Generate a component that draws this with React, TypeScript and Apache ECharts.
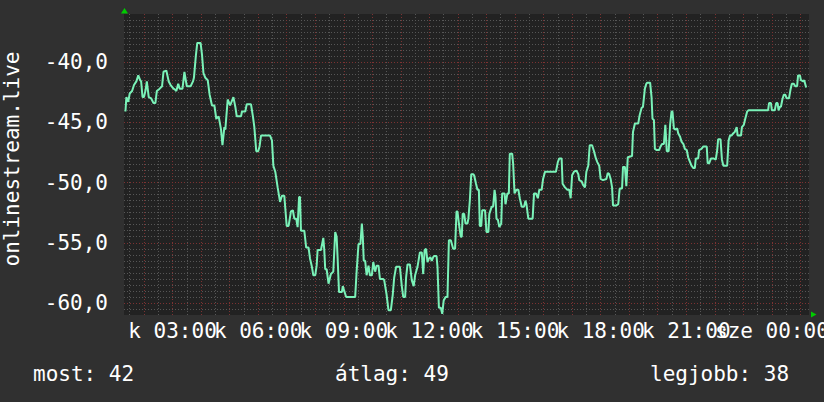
import React, { useEffect, useRef } from "react";
import * as echarts from "echarts";

// time of each sample, minutes since Tuesday 00:00 (k = kedd)
const sampleMinutes = [
  81, 83, 87, 90, 95, 99, 104, 108, 112, 114,
  117, 120, 123, 126, 130, 135, 140, 144, 147, 153,
  158, 161, 167, 172, 176, 182, 186, 188, 192, 195,
  201, 205, 210, 218, 223, 225, 229, 232, 239, 242,
  245, 249, 254, 258, 263, 268, 272, 277, 282, 285,
  289, 291, 296, 301, 308, 312, 315, 324, 326, 333,
  336, 345, 349, 352, 356, 360, 363, 366, 385, 389,
  392, 396, 401, 406, 410, 415, 420, 424, 429, 433,
  436, 440, 443, 446, 448, 450, 457, 461, 466, 469,
  473, 476, 480, 483, 485, 492, 497, 499, 501, 504,
  508, 511, 513, 518, 522, 525, 527, 530, 536, 538,
  541, 545, 564, 567, 571, 575, 578, 580, 582, 585,
  588, 592, 595, 599, 602, 606, 609, 613, 616, 622,
  625, 630, 634, 639, 643, 646, 650, 658, 662, 665,
  669, 671, 674, 679, 683, 687, 690, 695, 700, 704,
  707, 710, 713, 716, 719, 722, 725, 728, 730, 735,
  737, 740, 744, 747, 750, 754, 758, 761, 765, 770,
  774, 777, 779, 782, 786, 788, 790, 793, 796, 800,
  802, 805, 808, 812, 814, 818, 821, 824, 826, 829,
  831, 837, 840, 844, 846, 851, 854, 857, 859, 861,
  864, 867, 871, 873, 878, 880, 884, 887, 889, 894,
  896, 899, 903, 907, 910, 914, 919, 922, 924, 928,
  937, 940, 944, 948, 951, 956, 959, 963, 986, 990,
  993, 998, 1000, 1005, 1010, 1014, 1017, 1020, 1024, 1029,
  1033, 1035, 1040, 1043, 1047, 1050, 1054, 1057, 1062, 1066,
  1070, 1073, 1077, 1080, 1085, 1092, 1095, 1098, 1101, 1104,
  1106, 1113, 1117, 1120, 1125, 1127, 1131, 1134, 1137, 1146,
  1148, 1152, 1159, 1162, 1166, 1169, 1173, 1176, 1178, 1184,
  1187, 1189, 1192, 1194, 1198, 1203, 1206, 1209, 1213, 1216,
  1219, 1223, 1226, 1229, 1231, 1234, 1237, 1241, 1243, 1247,
  1250, 1254, 1257, 1261, 1264, 1268, 1271, 1275, 1278, 1280,
  1285, 1287, 1292, 1296, 1303, 1305, 1308, 1312, 1318, 1322,
  1325, 1327, 1332, 1335, 1338, 1346, 1349, 1352, 1355, 1359,
  1362, 1366, 1368, 1375, 1377, 1381, 1384, 1388, 1391, 1432,
  1434, 1438, 1440, 1446, 1449, 1452, 1454, 1457, 1459, 1462,
  1465, 1468, 1471, 1476, 1479, 1482, 1486, 1489, 1493, 1495,
  1499, 1501, 1506, 1508, 1512,
];

// onlinestream.live value at each sample
const sampleValues = [
  -44.1, -42.9, -43.3, -42.6, -42.4, -41.9, -41.6, -41.1, -41.5, -41.6,
  -42.9, -42.9, -42.4, -41.6, -42.9, -43.0, -43.4, -43.4, -42.4, -42.2,
  -42.0, -40.8, -40.7, -41.6, -41.9, -42.2, -42.3, -42.4, -41.8, -42.2,
  -42.2, -40.8, -42.0, -42.0, -41.6, -41.3, -39.5, -38.4, -38.4, -39.4,
  -40.9, -41.3, -41.5, -42.7, -43.6, -43.6, -44.7, -44.5, -45.6, -46.9,
  -45.4, -45.6, -43.1, -43.6, -42.9, -43.7, -44.5, -44.5, -44.1, -44.1,
  -43.5, -43.5, -44.5, -45.4, -47.4, -47.4, -47.0, -46.1, -46.1, -46.5,
  -48.6, -49.1, -50.4, -51.6, -51.1, -51.1, -53.6, -53.6, -52.4, -52.3,
  -53.0, -53.0, -53.7, -51.2, -51.2, -54.0, -54.0, -55.4, -55.4, -56.3,
  -57.0, -57.7, -57.7, -56.9, -55.6, -55.6, -54.6, -55.6, -57.2, -57.2,
  -58.4, -57.9, -57.6, -57.4, -54.1, -54.5, -56.2, -59.1, -59.1, -58.6,
  -59.0, -59.5, -59.5, -57.4, -55.1, -55.1, -53.4, -54.5, -56.5, -56.5,
  -57.7, -56.9, -57.7, -57.7, -56.6, -57.4, -56.9, -56.9, -58.0, -58.0,
  -58.1, -59.3, -60.6, -60.6, -59.3, -57.9, -57.0, -57.0, -58.6, -59.5,
  -59.5, -57.9, -56.8, -56.8, -58.1, -58.6, -57.7, -57.0, -55.8, -55.8,
  -57.6, -55.6, -55.5, -56.6, -56.3, -56.2, -56.5, -56.2, -56.1, -56.1,
  -57.0, -60.4, -60.4, -60.9, -59.8, -59.5, -59.5, -54.8, -54.8, -55.5,
  -55.5, -52.4, -52.4, -53.4, -54.5, -54.5, -52.6, -52.6, -53.4, -53.4,
  -53.0, -51.5, -49.3, -49.3, -49.4, -50.1, -50.6, -50.6, -53.6, -53.6,
  -52.3, -52.3, -54.1, -54.1, -52.6, -52.0, -52.0, -50.6, -51.2, -53.0,
  -53.1, -53.7, -53.4, -50.9, -50.9, -51.8, -50.9, -50.9, -47.6, -47.6,
  -48.4, -50.9, -50.6, -50.6, -51.3, -52.0, -52.0, -51.5, -51.8, -53.0,
  -53.0, -50.9, -50.9, -51.3, -50.6, -50.6, -49.7, -49.1, -49.1, -48.3,
  -48.0, -48.0, -50.1, -50.4, -50.6, -50.6, -51.3, -49.4, -49.1, -49.0,
  -49.3, -49.8, -49.9, -50.2, -50.4, -49.1, -48.6, -46.9, -46.9, -47.4,
  -48.0, -48.3, -48.6, -49.7, -49.8, -49.7, -49.2, -49.3, -49.7, -50.4,
  -51.9, -51.9, -51.8, -50.5, -50.5, -48.7, -48.7, -50.3, -47.9, -47.8,
  -45.8, -45.1, -45.1, -44.4, -43.8, -43.7, -42.2, -41.8, -41.7, -41.7,
  -42.9, -44.7, -44.8, -47.2, -47.3, -47.3, -47.0, -46.8, -46.8, -45.2,
  -47.4, -47.4, -45.2, -44.1, -44.1, -45.5, -45.6, -45.5, -45.9, -46.2,
  -46.6, -46.8, -47.2, -47.3, -47.9, -48.3, -48.6, -48.8, -48.8, -48.0,
  -48.0, -47.3, -47.2, -47.0, -47.0, -48.4, -48.4, -48.0, -48.0, -48.1,
  -47.3, -46.4, -46.4, -48.1, -48.6, -48.6, -46.5, -46.1, -46.1, -45.9,
  -45.8, -45.4, -46.1, -46.1, -45.4, -45.2, -44.7, -44.1, -44.0, -44.0,
  -43.4, -43.4, -44.0, -44.0, -43.4, -43.4, -44.0, -43.7, -43.7, -43.1,
  -42.7, -42.7, -43.0, -43.0, -42.3, -41.8, -41.8, -42.0, -42.0, -41.1,
  -41.1, -41.5, -41.6, -41.5, -42.1,
];

// x axis window (minutes since Tuesday 00:00) and labelled ticks (hours)
const xWindowMinutes = [78, 1518];
const xTickHours = [3, 6, 9, 12, 15, 18, 21, 24];
const xTickLabels = ["k 03:00", "k 06:00", "k 09:00", "k 12:00", "k 15:00", "k 18:00", "k 21:00", "sze 00:00"];

const yRange = [-61, -36];
const yTitle = "onlinestream.live";
const legendTexts = ["most: 42", "átlag: 49", "legjobb: 38"];

const FONT = '"DejaVu Sans Mono", monospace';

export default function App() {
  const ref = useRef<HTMLDivElement>(null);

  useEffect(() => {
    document.body.style.margin = "0";
    document.body.style.background = "#303030";
    const chart = echarts.init(ref.current as HTMLDivElement, null, { renderer: "svg" });
    const data = sampleMinutes.map((m, i) => [m / 60, sampleValues[i]]);

    const gridMinor = { color: "#565656", type: [1, 2], width: 1 };
    const gridMajor = { color: "#7c3232", type: [1, 2], width: 1 };

    chart.setOption({
      animation: false,
      backgroundColor: "#303030",
      grid: {
        left: 124,
        right: 15,
        top: 14,
        bottom: 87,
        show: true,
        backgroundColor: "#222222",
        borderWidth: 0,
        containLabel: false,
        outerBoundsMode: "none",
      },
      xAxis: {
        type: "value",
        min: xWindowMinutes[0] / 60,
        max: xWindowMinutes[1] / 60,
        splitNumber: 24,
        axisLine: { show: false },
        axisTick: { show: false },
        axisLabel: {
          color: "#ffffff",
          fontFamily: FONT,
          fontSize: 21,
          margin: 5,
          hideOverlap: false,
          showMinLabel: false,
          showMaxLabel: false,
          formatter: (v: number) => {
            const i = xTickHours.findIndex((h) => Math.abs(h - v) < 1e-6);
            return i >= 0 ? xTickLabels[i] : "";
          },
        },
        splitLine: { show: true, showMinLine: false, showMaxLine: false, lineStyle: gridMajor },
        minorTick: { show: false, splitNumber: 2 },
        minorSplitLine: { show: true, lineStyle: gridMinor },
      },
      yAxis: {
        type: "value",
        min: yRange[0],
        max: yRange[1],
        splitNumber: 5,
        axisLine: { show: false },
        axisTick: { show: false },
        axisLabel: {
          color: "#ffffff",
          fontFamily: FONT,
          fontSize: 21,
          margin: 16,
          showMinLabel: false,
          showMaxLabel: false,
          formatter: (v: number) =>
            Math.abs(v / 5 - Math.round(v / 5)) < 1e-6 ? v.toFixed(1).replace(".", ",") : "",
        },
        splitLine: { show: true, showMinLine: false, showMaxLine: false, lineStyle: gridMajor },
        minorTick: { show: false, splitNumber: 10 },
        minorSplitLine: { show: true, lineStyle: gridMinor },
      },
      series: [
        {
          type: "line",
          data,
          symbol: "none",
          showSymbol: false,
          lineStyle: { color: "#7af2b8", width: 2 },
          z: 5,
        },
      ],
      graphic: [
        {
          type: "text",
          x: 12,
          y: 159,
          rotation: Math.PI / 2,
          style: {
            text: yTitle,
            fill: "#ffffff",
            font: `21px ${FONT}`,
            align: "center",
            verticalAlign: "middle",
          },
        },
        {
          type: "polygon",
          shape: { points: [[124.5, 8], [121, 13.5], [128, 13.5]] },
          style: { fill: "#00cc00" },
        },
        {
          type: "polygon",
          shape: { points: [[816.5, 314.5], [811, 311.5], [811, 317.5]] },
          style: { fill: "#00cc00" },
        },
        {
          type: "text",
          x: 33,
          y: 374,
          style: { text: legendTexts[0], fill: "#ffffff", font: `21px ${FONT}`, align: "left", verticalAlign: "middle" },
        },
        {
          type: "text",
          x: 335,
          y: 374,
          style: { text: legendTexts[1], fill: "#ffffff", font: `21px ${FONT}`, align: "left", verticalAlign: "middle" },
        },
        {
          type: "text",
          x: 650,
          y: 374,
          style: { text: legendTexts[2], fill: "#ffffff", font: `21px ${FONT}`, align: "left", verticalAlign: "middle" },
        },
      ],
    });

    return () => chart.dispose();
  }, []);

  return <div ref={ref} style={{ width: 824, height: 402 }} />;
}
